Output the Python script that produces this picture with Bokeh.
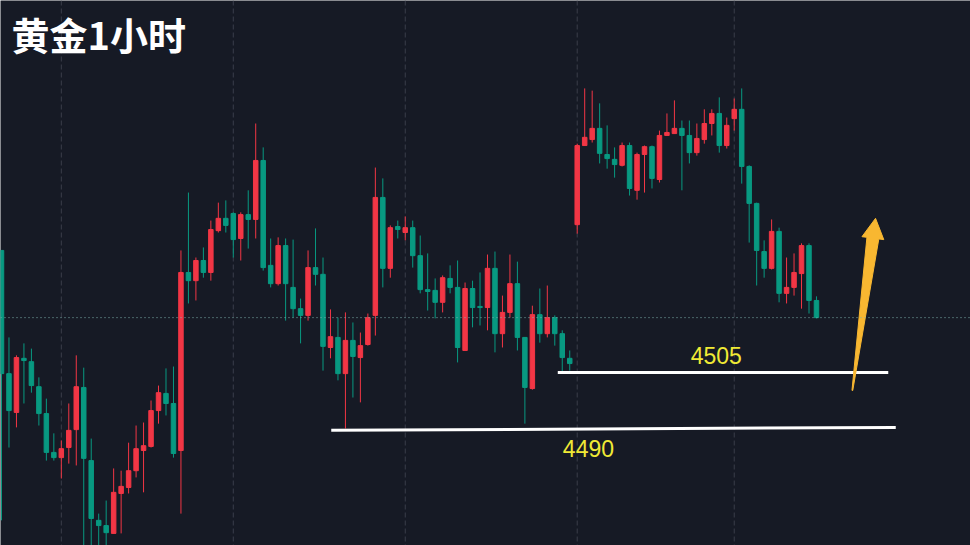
import math
from bokeh.plotting import figure
from bokeh.models import Range1d, Span, Label, ColumnDataSource
from bokeh.embed import file_html
from bokeh.resources import INLINE

# ---------------- data (gold, 1 hour bars) ----------------
opens = [4537.7, 4504.7, 4494.3, 4508.8, 4507.9, 4501.2, 4494.0, 4483.6, 4482.2, 4484.9,
         4489.7, 4501.0, 4481.4, 4465.4, 4464.0, 4461.9, 4472.6, 4474.2, 4478.7, 4484.1,
         4485.2, 4494.8, 4499.4, 4496.7, 4484.1, 4531.8, 4529.6, 4535.0, 4531.8, 4543.0,
         4546.3, 4547.6, 4540.9, 4547.3, 4546.0, 4561.8, 4533.7, 4528.8, 4539.0, 4527.8,
         4522.1, 4520.3, 4533.1, 4531.3, 4511.7, 4514.4, 4504.7, 4513.6, 4509.0, 4512.5,
         4520.3, 4551.9, 4532.9, 4544.1, 4542.5, 4543.8, 4536.3, 4527.2, 4527.0, 4523.8,
         4530.2, 4527.8, 4510.9, 4527.5, 4522.7, 4522.4, 4532.9, 4515.4, 4521.1, 4528.8,
         4514.4, 4500.7, 4520.5, 4515.4, 4519.7, 4515.4, 4508.8, 4544.6, 4565.8, 4567.4,
         4570.4, 4563.4, 4562.1, 4560.5, 4565.8, 4553.8, 4563.4, 4565.5, 4556.7, 4568.5,
         4569.0, 4570.4, 4568.5, 4563.9, 4567.4, 4571.7, 4574.4, 4565.8, 4573.0, 4575.5,
         4560.2, 4550.3, 4537.4, 4532.9, 4542.8, 4526.2, 4527.8, 4531.5, 4539.0, 4524.3]
highs = [4537.7, 4514.4, 4509.6, 4512.8, 4511.4, 4503.7, 4498.0, 4488.7, 4486.8, 4496.7,
         4509.6, 4506.3, 4487.3, 4467.2, 4470.7, 4479.3, 4478.7, 4486.2, 4490.8, 4491.6,
         4497.5, 4501.5, 4506.1, 4506.6, 4537.7, 4553.2, 4535.8, 4538.5, 4545.7, 4550.5,
         4551.1, 4547.9, 4547.9, 4553.8, 4571.7, 4565.3, 4540.9, 4541.2, 4540.9, 4540.6,
         4524.8, 4537.7, 4543.6, 4535.8, 4521.9, 4519.7, 4521.1, 4518.4, 4515.7, 4520.8,
         4559.9, 4557.0, 4544.4, 4545.7, 4546.8, 4545.7, 4541.7, 4536.9, 4530.2, 4531.0,
         4533.7, 4535.0, 4529.1, 4529.6, 4531.8, 4536.6, 4537.4, 4525.6, 4536.6, 4534.7,
         4514.4, 4522.9, 4527.5, 4528.3, 4520.3, 4516.3, 4510.9, 4566.3, 4581.1, 4580.5,
         4577.1, 4571.2, 4565.3, 4566.6, 4566.6, 4563.9, 4565.8, 4565.8, 4569.8, 4574.4,
         4577.9, 4572.5, 4572.5, 4571.7, 4575.5, 4575.5, 4578.7, 4573.3, 4578.4, 4581.1,
         4560.5, 4550.5, 4540.4, 4546.0, 4543.8, 4535.8, 4536.9, 4539.6, 4539.6, 4525.4]
lows = [4465.4, 4484.9, 4490.3, 4496.7, 4499.6, 4490.8, 4481.4, 4481.4, 4476.6, 4480.6,
        4480.1, 4455.0, 4455.0, 4456.0, 4457.0, 4461.9, 4461.9, 4472.6, 4476.9, 4472.9,
        4484.9, 4491.3, 4493.5, 4482.2, 4467.2, 4523.5, 4524.3, 4530.4, 4529.6, 4542.5,
        4542.5, 4535.8, 4535.0, 4538.2, 4540.9, 4532.3, 4527.8, 4528.3, 4518.9, 4519.7,
        4512.8, 4518.9, 4528.3, 4505.5, 4508.8, 4502.9, 4490.0, 4498.3, 4497.0, 4512.2,
        4514.9, 4527.8, 4530.4, 4540.9, 4540.4, 4533.1, 4526.2, 4521.6, 4519.5, 4521.1,
        4526.2, 4507.7, 4510.9, 4517.1, 4517.6, 4516.3, 4510.4, 4511.7, 4519.7, 4510.9,
        4491.3, 4500.4, 4513.0, 4514.4, 4512.2, 4505.0, 4505.5, 4542.2, 4565.8, 4566.6,
        4561.0, 4559.6, 4557.2, 4560.2, 4552.4, 4551.3, 4553.2, 4554.3, 4555.9, 4568.5,
        4569.0, 4553.8, 4561.0, 4563.1, 4566.3, 4568.5, 4563.9, 4565.0, 4569.8, 4555.6,
        4539.8, 4528.3, 4530.4, 4532.6, 4523.8, 4523.5, 4525.6, 4522.1, 4520.8, 4519.5]
closes = [4504.7, 4494.8, 4509.0, 4508.2, 4501.5, 4494.0, 4483.6, 4482.2, 4484.6, 4489.5,
          4501.2, 4482.0, 4465.9, 4464.0, 4462.1, 4472.9, 4474.5, 4478.7, 4484.6, 4485.4,
          4494.8, 4499.6, 4496.7, 4483.3, 4531.8, 4529.6, 4535.0, 4531.8, 4543.3, 4546.3,
          4544.4, 4540.6, 4547.3, 4546.0, 4561.8, 4533.1, 4528.8, 4539.0, 4528.8, 4522.1,
          4520.3, 4533.1, 4531.3, 4512.0, 4514.6, 4504.7, 4513.6, 4509.3, 4512.2, 4519.7,
          4551.9, 4532.9, 4543.8, 4543.3, 4543.8, 4536.3, 4527.2, 4526.7, 4523.8, 4530.4,
          4527.8, 4511.7, 4527.5, 4522.4, 4522.4, 4532.9, 4515.4, 4521.1, 4528.8, 4514.4,
          4501.0, 4520.5, 4515.4, 4519.7, 4515.4, 4509.0, 4507.4, 4565.8, 4568.0, 4570.4,
          4563.7, 4562.3, 4560.7, 4565.8, 4554.3, 4563.4, 4565.5, 4557.0, 4568.5, 4569.3,
          4570.4, 4568.5, 4563.9, 4567.7, 4571.7, 4574.4, 4565.8, 4571.2, 4575.5, 4560.2,
          4550.3, 4537.7, 4532.9, 4542.8, 4526.2, 4527.8, 4531.8, 4539.0, 4524.3, 4519.7]

day_breaks = [8, 31, 54, 77, 98]          # bar indices of the session separators
level_prices_start = [4505.0, 4489.5]     # drawn support lines (price at left end)
level_prices_end = [4505.0, 4490.3]       # (price at right end)
level_bar_start = [74.4, 44.1]
level_bar_end = [118.6, 119.6]
level_texts = ["4505", "4490"]
level_text_bar = [95.6, 78.5]
level_text_price = [4509.6, 4484.6]
arrow_tail = (113.8, 4500.2)
arrow_tip = (116.9, 4546.3)
title_text = "黄金1小时"

# ---------------- style ----------------
BG = "#161A25"
UP = "#F23645"      # red = rising
DOWN = "#089981"    # green = falling
W, H = 970, 545
XS, XE = -0.134, 129.6
YS, YE = 4458.66, 4604.65

idx = list(range(len(opens)))
colors = [UP if c >= o else DOWN for o, c in zip(opens, closes)]
src = ColumnDataSource(dict(
    x=idx, high=highs, low=lows,
    top=[max(o, c) for o, c in zip(opens, closes)],
    bottom=[min(o, c) for o, c in zip(opens, closes)],
    color=colors))

p = figure(width=W, height=H, output_backend="svg", toolbar_location=None,
           x_range=Range1d(XS, XE), y_range=Range1d(YS, YE),
           x_axis_location=None, y_axis_location=None, min_border=0)
p.background_fill_color = BG
p.border_fill_color = BG
p.outline_line_color = None
p.grid.visible = False

for b in day_breaks:
    p.add_layout(Span(location=b, dimension="height", line_color="#3A3E4A",
                      line_width=1, line_dash="5 3", level="underlay"))

p.segment(x0="x", x1="x", y0="low", y1="high", color="color", line_width=1, source=src)
p.vbar(x="x", width=0.6, top="top", bottom="bottom", fill_color="color",
       line_color="color", line_width=1, source=src)

# last price line
p.add_layout(Span(location=closes[-1], dimension="width", line_color="#7FB3AE",
                  line_width=1, line_dash="1 3"))

# support lines
p.segment(x0=level_bar_start, x1=level_bar_end, y0=level_prices_start, y1=level_prices_end,
          line_color="white", line_width=3)
for t, xb, yp in zip(level_texts, level_text_bar, level_text_price):
    p.add_layout(Label(x=xb, y=yp, text=t, text_color="#F0EA35", text_font="Liberation Sans",
                       text_font_size="23px", text_align="center", text_baseline="middle"))

# arrow (tapered) computed in screen space
sx = W / (XE - XS)
sy = H / (YE - YS)
def to_px(pt):
    return ((pt[0] - XS) * sx, (pt[1] - YS) * sy)
def to_data(pt):
    return (pt[0] / sx + XS, pt[1] / sy + YS)
tx, ty = to_px(arrow_tail)
hx, hy = to_px(arrow_tip)
L = math.hypot(hx - tx, hy - ty)
ux, uy = (hx - tx) / L, (hy - ty) / L
nx, ny = -uy, ux
head_len, head_half, shaft_half, tail_half = 20, 11, 6, 0.4
bx, by = hx - ux * head_len, hy - uy * head_len
pts = [
    (tx + nx * tail_half, ty + ny * tail_half),
    (bx + nx * shaft_half, by + ny * shaft_half),
    (bx + nx * head_half, by + ny * head_half),
    (hx, hy),
    (bx - nx * head_half, by - ny * head_half),
    (bx - nx * shaft_half, by - ny * shaft_half),
    (tx - nx * tail_half, ty - ny * tail_half),
]
dpts = [to_data(q) for q in pts]
p.patch([q[0] for q in dpts], [q[1] for q in dpts], fill_color="#F8B731",
        line_color="#F8B731", line_width=1)

p.add_layout(Label(x=11, y=H - 33, x_units="screen", y_units="screen", text=title_text,
                   text_color="white", text_font="Noto Sans CJK SC", text_font_style="bold",
                   text_font_size="38px", text_baseline="middle"))

open("out.html", "w").write(file_html(p, INLINE))
